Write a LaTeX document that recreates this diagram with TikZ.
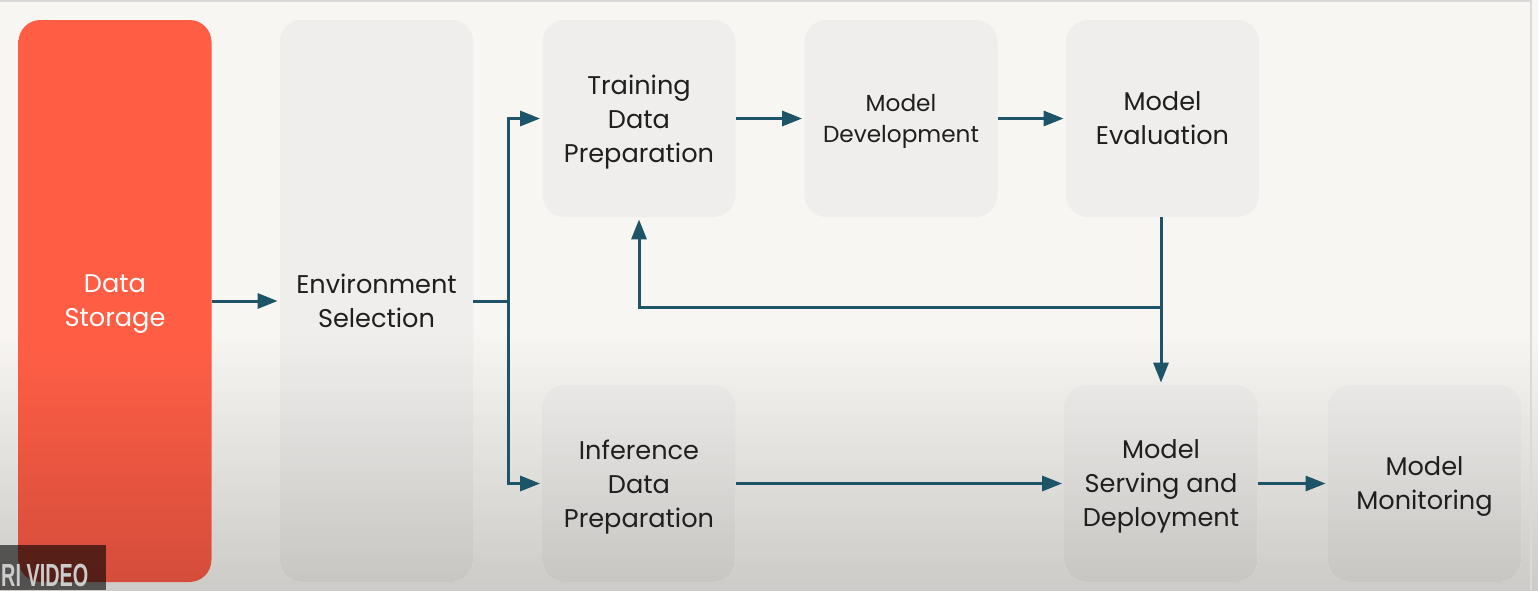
\documentclass[tikz,border=0pt]{standalone}
\usepackage{fontspec}
\setmainfont{Poppins}
\newfontfamily\tagfont{Liberation Sans}
\usetikzlibrary{arrows.meta}
\definecolor{flowblue}{HTML}{1D5467}
\definecolor{storered}{HTML}{FF5E45}
\definecolor{storedark}{HTML}{D44D3B}
\definecolor{boxgray}{HTML}{EFEEEC}
\definecolor{boxlow}{HTML}{E9E8E6}
\definecolor{boxdark}{HTML}{C7C6C3}
\definecolor{bgtop}{HTML}{F7F6F3}
\definecolor{bgbot}{HTML}{CCCBC8}
\pgfdeclareverticalshading{bgfade}{100bp}{color(0bp)=(bgbot); color(25bp)=(bgbot); color(47bp)=(bgtop); color(100bp)=(bgtop)}
\pgfdeclareverticalshading{redfade}{100bp}{color(0bp)=(storedark); color(25bp)=(storedark); color(46bp)=(storered); color(100bp)=(storered)}
\pgfdeclareverticalshading{grayfade}{100bp}{color(0bp)=(boxdark); color(25bp)=(boxdark); color(47bp)=(boxgray); color(100bp)=(boxgray)}

\begin{document}
\begin{tikzpicture}[x=0.5pt, y=-0.5pt,
  box/.style={rounded corners=11pt, minimum width=96.5pt, minimum height=98.5pt, inner sep=0pt,
    align=center, text=black!88, font=\fontsize{12.8}{17}\selectfont, fill=boxgray, text depth=-1pt},
  tallbox/.style={box, minimum height=281pt, shade},
  lowbox/.style={box, top color=boxlow, bottom color=boxdark},
  flow/.style={-{Triangle[length=10pt,width=7.5pt]}, flowblue, line width=1.5pt, shorten >=1pt},
  link/.style={flowblue, line width=1.5pt}]
\useasboundingbox (0,0) rectangle (1538,590);
\shade[shading=bgfade] (0,0) rectangle (1538,590);
\draw[black!15, line width=1pt] (0,1) -- (1531,1) -- (1531,590);

% left columns
\node[tallbox, shading=redfade, text=white, text depth=-2pt] (store) at (115,301) {Data\\Storage};
\node[tallbox, shading=grayfade] (envsel) at (376.5,301) {Environment\\Selection};

% training branch
\node[box] (trainprep) at (639,118.5) {Training\\Data\\Preparation};
\node[box, font=\fontsize{11.6}{15.5}\selectfont] (moddev) at (901,118.5) {Model\\Development};
\node[box] (modeval) at (1162.5,118.5) {Model\\Evaluation};

% inference branch
\node[lowbox] (infprep) at (639,483.5) {Inference\\Data\\Preparation};
\node[lowbox] (serving) at (1161,483.5) {Model\\Serving and\\Deployment};
\node[lowbox] (monitor) at (1424.5,483.5) {Model\\Monitoring};

\coordinate (split) at (508,301);
\coordinate (fb) at (1161,307);

\draw[flow] (store) -- (envsel);
\draw[link] (envsel.east) -- (split);
\draw[flow] (split) |- (trainprep.west);
\draw[flow] (split) |- (infprep.west);
\draw[flow] (trainprep) -- (moddev);
\draw[flow] (moddev) -- (modeval);
\draw[flow] (modeval.south -| serving.north) -- (serving.north);
\draw[flow] (fb) -| (trainprep.south);
\draw[flow] (infprep) -- (serving);
\draw[flow] (serving) -- (monitor);

% video tag
\fill[black, opacity=.6] (0,545) rectangle (106,590);
\node[anchor=base west, inner sep=0pt, text depth=0pt, xscale=.62, text=white!80!black, font=\tagfont\fontsize{16}{18}\selectfont\bfseries] (tag) at (1,586) {RI VIDEO};
\end{tikzpicture}
\end{document}
